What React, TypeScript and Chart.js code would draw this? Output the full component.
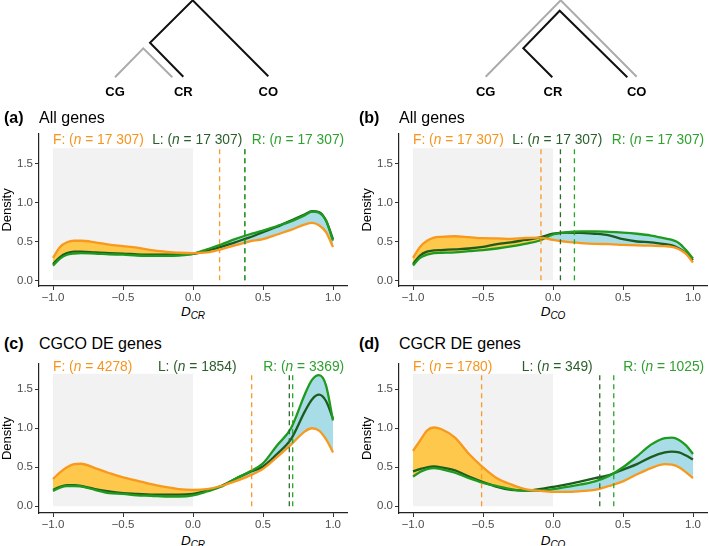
import React, { useEffect, useRef } from "react";
import { Chart, registerables } from "chart.js";
Chart.register(...registerables);

const FONT = '"Liberation Sans", Arial, Helvetica, sans-serif';

// ---------- data ----------
const xGrid = [-1, -0.95, -0.9, -0.85, -0.8, -0.7, -0.6, -0.5, -0.4, -0.3, -0.2, -0.1, 0, 0.1, 0.2, 0.3, 0.4, 0.5, 0.6, 0.7, 0.8, 0.85, 0.9, 0.95, 1];

const aF = [0.29, 0.43, 0.49, 0.51, 0.51, 0.49, 0.46, 0.44, 0.42, 0.39, 0.37, 0.355, 0.35, 0.36, 0.40, 0.45, 0.50, 0.53, 0.59, 0.65, 0.72, 0.74, 0.71, 0.62, 0.43];
const aL = [0.21, 0.30, 0.35, 0.37, 0.37, 0.36, 0.35, 0.345, 0.335, 0.33, 0.33, 0.33, 0.34, 0.38, 0.43, 0.49, 0.55, 0.62, 0.69, 0.77, 0.85, 0.89, 0.88, 0.77, 0.53];
const aR = [0.19, 0.28, 0.33, 0.345, 0.35, 0.345, 0.335, 0.33, 0.32, 0.315, 0.315, 0.32, 0.34, 0.40, 0.46, 0.53, 0.59, 0.64, 0.70, 0.76, 0.84, 0.885, 0.87, 0.77, 0.51];

const bF = [0.29, 0.43, 0.51, 0.55, 0.56, 0.568, 0.556, 0.543, 0.54, 0.535, 0.545, 0.55, 0.52, 0.495, 0.48, 0.47, 0.466, 0.457, 0.45, 0.446, 0.44, 0.43, 0.40, 0.34, 0.23];
const bL = [0.21, 0.32, 0.37, 0.385, 0.39, 0.40, 0.41, 0.43, 0.466, 0.49, 0.52, 0.55, 0.60, 0.615, 0.61, 0.60, 0.58, 0.53, 0.50, 0.49, 0.466, 0.45, 0.41, 0.35, 0.26];
const bR = [0.19, 0.29, 0.33, 0.35, 0.355, 0.36, 0.375, 0.39, 0.41, 0.436, 0.47, 0.51, 0.59, 0.62, 0.63, 0.63, 0.625, 0.615, 0.60, 0.577, 0.54, 0.52, 0.48, 0.39, 0.28];

const cF = [0.35, 0.435, 0.50, 0.54, 0.545, 0.49, 0.427, 0.37, 0.33, 0.285, 0.25, 0.22, 0.21, 0.22, 0.26, 0.32, 0.39, 0.48, 0.63, 0.79, 0.96, 1.0, 0.97, 0.86, 0.69];
const cL = [0.21, 0.25, 0.27, 0.27, 0.26, 0.22, 0.19, 0.17, 0.16, 0.15, 0.15, 0.15, 0.16, 0.20, 0.26, 0.35, 0.435, 0.51, 0.67, 0.86, 1.22, 1.37, 1.43, 1.35, 1.12];
const cR = [0.195, 0.24, 0.26, 0.26, 0.255, 0.21, 0.17, 0.16, 0.14, 0.135, 0.125, 0.125, 0.14, 0.19, 0.25, 0.35, 0.44, 0.55, 0.78, 1.0, 1.44, 1.62, 1.68, 1.55, 1.10];

const dF = [0.71, 0.84, 0.97, 1.01, 0.99, 0.88, 0.67, 0.50, 0.36, 0.28, 0.22, 0.20, 0.185, 0.185, 0.195, 0.21, 0.26, 0.32, 0.41, 0.49, 0.54, 0.534, 0.50, 0.435, 0.36];
const dL = [0.448, 0.477, 0.50, 0.51, 0.50, 0.46, 0.38, 0.31, 0.25, 0.21, 0.20, 0.22, 0.25, 0.28, 0.32, 0.36, 0.40, 0.47, 0.54, 0.63, 0.69, 0.70, 0.69, 0.65, 0.60];
const dR = [0.38, 0.44, 0.477, 0.49, 0.477, 0.43, 0.36, 0.30, 0.26, 0.22, 0.20, 0.20, 0.22, 0.25, 0.28, 0.32, 0.39, 0.50, 0.64, 0.79, 0.875, 0.88, 0.85, 0.78, 0.67];

// medians (dashed lines): F, L, R
const vA = [0.19, 0.37, 0.37];
const vB = [-0.086, 0.053, 0.153];
const vC = [0.419, 0.688, 0.712];
const vD = [-0.51, 0.334, 0.434];

// counts: F, L, R
const nA = ["17 307", "17 307", "17 307"];
const nB = ["17 307", "17 307", "17 307"];
const nC = ["4278", "1854", "3369"];
const nD = ["1780", "349", "1025"];

const xTickValues = [-1, -0.5, 0, 0.5, 1];
const yTickValues = [0, 0.5, 1, 1.5];
const shadeX = [-1, 0];
const shadeTop = 1.7;
const vlineSpan = [0, 1.7];

// tree layout (units of the tree canvas)
const treeLabels = ["CG", "CR", "CO"];
const treeLeftTipsX = [115, 183.3, 268.3];
const treeRightTipsX = [485.7, 553, 636.7];
const treeLabelY = 92;
const treeLeftGray = [[115, 77.3], [143.3, 48.3], [172.3, 77.3]];
const treeLeftBlack = [[183.3, 76.7], [150, 42.7], [192.7, 0.3], [268.3, 76.3]];
const treeRightGray = [[485.7, 76.7], [560.7, 0.3], [636.7, 76.7]];
const treeRightBlack = [[552.3, 77.3], [523.3, 48.3], [559.7, 10.7], [627.3, 77.3]];

// ---------- styles ----------
const ORANGE = "#F8981D";
const DKGREEN = "#1C5C1C";
const GREEN = "#1E9A1E";
const YELLOW = "#FDC84C";
const BLUE = "#A8DCE6";
const SHADE = "#F2F2F2";
const TXT_F = "#F7941D";
const TXT_L = "#2A5E2A";
const TXT_R = "#2FA12F";

function fmt(v: number) {
  const s = Math.abs(v).toFixed(1);
  return v < 0 ? "\u2212" + s : s;
}

const pts = (ys: number[]) => xGrid.map((x, i) => ({ x, y: ys[i] }));

type PanelProps = {
  left: number; top: number; height: number; padTop: number;
  yMin: number; yMax: number;
  F: number[]; L: number[]; R: number[];
  v: number[]; n: string[]; annotY: number;
};

function Panel(p: PanelProps) {
  const ref = useRef<HTMLCanvasElement | null>(null);
  useEffect(() => {
    if (!ref.current) return;
    const annot = {
      id: "annot",
      afterDatasetsDraw(chart: any) {
        const ctx = chart.ctx;
        const xs = chart.scales.x;
        const ys = chart.scales.y;
        const y = ys.getPixelForValue(p.annotY);
        const items = [
          { x: -1, align: "left", color: TXT_F, lab: "F", n: p.n[0] },
          { x: 0.03, align: "center", color: TXT_L, lab: "L", n: p.n[1] },
          { x: 1.08, align: "right", color: TXT_R, lab: "R", n: p.n[2] },
        ];
        ctx.save();
        ctx.textBaseline = "middle";
        ctx.textAlign = "left";
        const size = 13.8;
        for (const it of items) {
          const segs = [
            { t: it.lab + ": (", i: false },
            { t: "n", i: true },
            { t: " = " + it.n + ")", i: false },
          ];
          const widths = segs.map((s) => {
            ctx.font = (s.i ? "italic " : "") + size + "px " + FONT;
            return ctx.measureText(s.t).width;
          });
          const total = widths.reduce((a, b) => a + b, 0);
          const px = xs.getPixelForValue(it.x);
          let sx = it.align === "left" ? px : it.align === "center" ? px - total / 2 : px - total;
          ctx.fillStyle = it.color;
          segs.forEach((s, k) => {
            ctx.font = (s.i ? "italic " : "") + size + "px " + FONT;
            ctx.fillText(s.t, sx, y);
            sx += widths[k];
          });
        }
        ctx.restore();
      },
    };
    const line = (data: any, color: string, order: number, extra: any = {}) => ({
      data, borderColor: color, borderWidth: 2.3, pointRadius: 0,
      cubicInterpolationMode: "monotone", fill: false, order, ...extra,
    });
    const vline = (x: number, color: string, order: number) => ({
      data: vlineSpan.map((y) => ({ x, y })), borderColor: color, borderWidth: 1.3,
      borderDash: [5, 4], pointRadius: 0, fill: false, order, tension: 0,
    });
    const chart = new Chart(ref.current, {
      type: "line",
      data: {
        datasets: [
          line(pts(p.F), ORANGE, 2, { fill: { target: 2, above: YELLOW, below: BLUE } }),
          line(pts(p.L), DKGREEN, 4),
          line(pts(p.R), GREEN, 3),
          {
            data: shadeX.map((x) => ({ x, y: shadeTop })), borderWidth: 0, borderColor: "rgba(0,0,0,0)",
            backgroundColor: SHADE, fill: "origin", pointRadius: 0, order: 10, tension: 0,
          },
          vline(p.v[1], "#2E6A2E", 0.3),
          vline(p.v[2], "#27A527", 0.2),
          vline(p.v[0], "#F89A25", 0.1),
        ] as any,
      },
      options: {
        animation: false,
        responsive: false,
        events: [],
        layout: { padding: { top: p.padTop, right: 1, left: 0, bottom: 0 } },
        plugins: {
          legend: { display: false },
          tooltip: { enabled: false },
          filler: { drawTime: "beforeDatasetsDraw" } as any,
        },
        scales: {
          x: {
            type: "linear", min: -1.1, max: 1.1,
            afterBuildTicks: (s: any) => { s.ticks = xTickValues.map((v) => ({ value: v })); },
            afterFit: (s: any) => { s.height = 16; },
            ticks: { callback: (v: any) => fmt(Number(v)), color: "#4D4D4D", font: { family: FONT, size: 11.5 }, padding: 1, maxRotation: 0, autoSkip: false },
            grid: { display: true, drawOnChartArea: false, drawTicks: true, tickLength: 4, color: "#333" },
            border: { display: true, color: "#222", width: 1.2 },
          },
          y: {
            type: "linear", min: p.yMin, max: p.yMax,
            afterBuildTicks: (s: any) => { s.ticks = yTickValues.map((v) => ({ value: v })); },
            afterFit: (s: any) => { s.width = 39; },
            ticks: { callback: (v: any) => fmt(Number(v)), color: "#4D4D4D", font: { family: FONT, size: 11.5 }, padding: 2, autoSkip: false },
            grid: { display: true, drawOnChartArea: false, drawTicks: true, tickLength: 4, color: "#333" },
            border: { display: true, color: "#222", width: 1.2 },
            title: { display: true, text: "Density", color: "#000", font: { family: FONT, size: 13 }, padding: { top: 0, bottom: 0 } },
          },
        },
      } as any,
      plugins: [annot],
    });
    return () => chart.destroy();
  }, []);
  return (
    <canvas
      ref={ref}
      width={348}
      height={p.height}
      style={{ position: "absolute", left: p.left, top: p.top, width: 348, height: p.height }}
    />
  );
}

function Tree() {
  const ref = useRef<HTMLCanvasElement | null>(null);
  useEffect(() => {
    if (!ref.current) return;
    const toPts = (arr: number[][]) => arr.map(([x, y]) => ({ x, y }));
    const labels = {
      id: "treeLabels",
      afterDatasetsDraw(chart: any) {
        const ctx = chart.ctx;
        const xs = chart.scales.x;
        const ys = chart.scales.y;
        ctx.save();
        ctx.font = "bold 13px " + FONT;
        ctx.fillStyle = "#000";
        ctx.textAlign = "center";
        ctx.textBaseline = "middle";
        [treeLeftTipsX, treeRightTipsX].forEach((tips) => {
          tips.forEach((x, i) => ctx.fillText(treeLabels[i], xs.getPixelForValue(x), ys.getPixelForValue(treeLabelY)));
        });
        ctx.restore();
      },
    };
    const seg = (arr: number[][], color: string) => ({
      data: toPts(arr), borderColor: color, borderWidth: 2, showLine: true, pointRadius: 0, tension: 0, fill: false,
    });
    const chart = new Chart(ref.current, {
      type: "scatter",
      data: {
        datasets: [
          seg(treeLeftGray, "#ABABAB"),
          seg(treeLeftBlack, "#111"),
          seg(treeRightGray, "#ABABAB"),
          seg(treeRightBlack, "#111"),
        ] as any,
      },
      options: {
        animation: false,
        responsive: false,
        events: [],
        layout: { padding: 0 },
        plugins: { legend: { display: false }, tooltip: { enabled: false } },
        scales: {
          x: { type: "linear", min: 0, max: 709, display: false },
          y: { type: "linear", min: 0, max: 105, reverse: true, display: false },
        },
      } as any,
      plugins: [labels],
    });
    return () => chart.destroy();
  }, []);
  return <canvas ref={ref} width={709} height={105} style={{ position: "absolute", left: 0, top: 0, width: 709, height: 105 }} />;
}

const panels = [
  { key: "a", tag: "(a)", title: "All genes", sub: "CR", col: 0, row: 0, F: aF, L: aL, R: aR, v: vA, n: nA },
  { key: "b", tag: "(b)", title: "All genes", sub: "CO", col: 1, row: 0, F: bF, L: bL, R: bR, v: vB, n: nB },
  { key: "c", tag: "(c)", title: "CGCO DE genes", sub: "CR", col: 0, row: 1, F: cF, L: cL, R: cR, v: vC, n: nC },
  { key: "d", tag: "(d)", title: "CGCR DE genes", sub: "CO", col: 1, row: 1, F: dF, L: dL, R: dR, v: vD, n: nD },
];

const rows = [
  { top: 125, height: 177, padTop: 8.3, yMin: -0.073, yMax: 1.886, annotY: 1.8, titleY: 117.7, xTitleY: 312 },
  { top: 355, height: 174, padTop: 8.5, yMin: -0.086, yMax: 1.825, annotY: 1.78, titleY: 344, xTitleY: 540.5 },
];
const cols = [
  { left: 0, tagLeft: 4, axisLeft: 39, center: 193 },
  { left: 360, tagLeft: 359, axisLeft: 399, center: 553 },
];

export default function App() {
  return (
    <div style={{ position: "absolute", left: 0, top: 0, width: 709, height: 546, background: "#fff", overflow: "hidden", fontFamily: FONT }}>
      <Tree />
      {panels.map((p) => {
        const r = rows[p.row];
        const c = cols[p.col];
        return (
          <React.Fragment key={p.key}>
            <Panel
              left={c.left} top={r.top} height={r.height} padTop={r.padTop}
              yMin={r.yMin} yMax={r.yMax} F={p.F} L={p.L} R={p.R} v={p.v} n={p.n} annotY={r.annotY}
            />
            <div style={{ position: "absolute", left: c.tagLeft, top: r.titleY - 10, height: 20, lineHeight: "20px", fontSize: 16, fontWeight: "bold", color: "#000", whiteSpace: "nowrap" }}>{p.tag}</div>
            <div style={{ position: "absolute", left: c.axisLeft, top: r.titleY - 10, height: 20, lineHeight: "20px", fontSize: 16, color: "#000", whiteSpace: "nowrap" }}>{p.title}</div>
            <div style={{ position: "absolute", left: c.center - 40, width: 80, top: r.xTitleY - 7.8, height: 16, lineHeight: "16px", textAlign: "center", fontSize: 13.5, color: "#000", whiteSpace: "nowrap" }}>
              <i>D</i>
              <span style={{ fontStyle: "italic", fontSize: 10, position: "relative", top: 3 }}>{p.sub}</span>
            </div>
          </React.Fragment>
        );
      })}
    </div>
  );
}
